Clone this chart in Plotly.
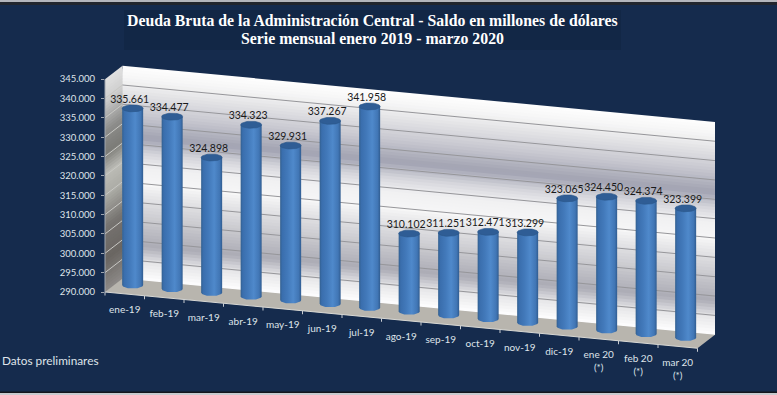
import plotly.graph_objects as go
import numpy as np

categories = ["ene-19","feb-19","mar-19","abr-19","may-19","jun-19","jul-19","ago-19","sep-19","oct-19","nov-19","dic-19","ene 20<br>(*)","feb 20<br>(*)","mar 20<br>(*)"]
values = [335661,334477,324898,334323,329931,337267,341958,310102,311251,312471,313299,323065,324450,324374,323399]
y_ticks = [290000,295000,300000,305000,310000,315000,320000,325000,330000,335000,340000,345000]
title_1 = "Deuda Bruta de la Administración Central - Saldo en millones de dólares"
title_2 = "Serie mensual enero 2019 - marzo 2020"
note = "Datos preliminares"

W, H = 777, 395
PX_CAT = 39.5      # px per category
PX_K = 3.87/1000   # px per unit of value
X0, Y0 = 105, 292  # px of the front-left corner of the floor
VMIN, VMAX = 290000, 345000
SLOPE = 3.75 / PX_K          # value units the floor falls per category
DEPTH_U = 17.5 / PX_CAT      # depth of the box in categories
DEPTH_V = 13.5 / PX_K        # depth of the box in value units
N = len(values)

def proj(u, v, d=0.0):
    return u + d*DEPTH_U, v - SLOPE*u + d*DEPTH_V

fmt = lambda v: f"{v:,}".replace(",", ".")

def lerp_color(stops, f):
    fs = [s[0] for s in stops]
    cs = np.array([[int(s[1][i:i+2],16) for i in (1,3,5)] for s in stops], float)
    rgb = [np.interp(f, fs, cs[:,k]) for k in range(3)]
    return "rgb(%d,%d,%d)" % tuple(rgb)

back_stops = [(0,"#ffffff"),(.06,"#f6f6f6"),(.12,"#e6e6e8"),(.22,"#cacad2"),(.33,"#a2a3b2"),(.40,"#d3d3da"),(.47,"#f1f1f2"),
              (.55,"#f7f7f7"),(.63,"#e0e0e3"),(.72,"#cacacf"),(.84,"#acacb6"),(.92,"#e8e8ea"),(1,"#ffffff")]
side_stops = [(0,"#e2e2e2"),(.1,"#cfcfcf"),(.25,"#8c8c8a"),(.35,"#7c7c78"),(.45,"#bcbcb6"),(.55,"#acaca6"),
              (.7,"#767370"),(.85,"#6a6662"),(1,"#8d8a88")]

fig = go.Figure()
STRIPS = 70

def poly(xs, ys, color, line=None, **kw):
    fig.add_trace(go.Scatter(x=xs, y=ys, mode="lines", fill="toself", fillcolor=color,
                             line=dict(color=line or color, width=0.6 if line else 0),
                             hoverinfo="skip", showlegend=False, **kw))

# walls made of overlapping sheared strips, painted from the top down
for k in range(STRIPS):
    f0 = k/STRIPS
    vt = VMAX-(VMAX-VMIN)*f0
    c = lerp_color(back_stops, f0+0.5/STRIPS)
    pts = [proj(0,vt,1), proj(N,vt,1), proj(N,VMIN,1), proj(0,VMIN,1)]
    poly([p[0] for p in pts]+[pts[0][0]], [p[1] for p in pts]+[pts[0][1]], c)
    c = lerp_color(side_stops, f0+0.5/STRIPS)
    pts = [proj(0,vt,0), proj(0,vt,1), proj(0,VMIN,1), proj(0,VMIN,0)]
    poly([p[0] for p in pts]+[pts[0][0]], [p[1] for p in pts]+[pts[0][1]], c)

# floor
pts = [proj(0,VMIN,0), proj(N,VMIN,0), proj(N,VMIN,1), proj(0,VMIN,1)]
poly([p[0] for p in pts]+[pts[0][0]], [p[1] for p in pts]+[pts[0][1]], "#b8b5ae")

# gridlines
for v in y_ticks[1:-1]:
    a, b, c = proj(0,v,0), proj(0,v,1), proj(N,v,1)
    fig.add_trace(go.Scatter(x=[a[0],b[0]], y=[a[1],b[1]], mode="lines", line=dict(color="#c8c8c4", width=1),
                             hoverinfo="skip", showlegend=False))
    fig.add_trace(go.Scatter(x=[b[0],c[0]], y=[b[1],c[1]], mode="lines", line=dict(color="#96969a", width=1),
                             hoverinfo="skip", showlegend=False))

# axis line & ticks along the floor front
a, b = proj(0,VMIN), proj(N,VMIN)
fig.add_trace(go.Scatter(x=[a[0],b[0]], y=[a[1],b[1]], mode="lines", line=dict(color="#d8d8d4", width=1),
                         hoverinfo="skip", showlegend=False))
TICK_V = 3.5/PX_K
tx, ty = [], []
for i in range(N+1):
    p = proj(i, VMIN)
    tx += [p[0], p[0], None]; ty += [p[1], p[1]-TICK_V, None]
fig.add_trace(go.Scatter(x=tx, y=ty, mode="lines", line=dict(color="#c8ccd2", width=1), hoverinfo="skip", showlegend=False))
# value axis line
fig.add_trace(go.Scatter(x=[0,0], y=[VMIN,VMAX], mode="lines", line=dict(color="#9fa6b0", width=1), hoverinfo="skip", showlegend=False))

# cylinders
BAR_U = 0.70
BAR_LIFT = 9.6/PX_K
A = 10.5/PX_CAT
B = 3.5/PX_K
t_low = np.linspace(np.pi, 2*np.pi, 24)
t_all = np.linspace(0, 2*np.pi, 48)
grad = [[0,"#33608f"],[.1,"#3a6ead"],[.35,"#4279ba"],[.62,"#4f89cb"],[.88,"#4176b5"],[1,"#305c90"]]
for i, v in enumerate(values):
    cu, base = proj(i+BAR_U, VMIN)
    _, top = proj(i+BAR_U, v)
    base += BAR_LIFT; top += BAR_LIFT
    xs = list(cu + A*np.cos(t_low)) + [cu+A, cu-A, cu-A]
    ys = list(base + B*np.sin(t_low)) + [top, top, base]
    fig.add_trace(go.Scatter(x=xs, y=ys, mode="lines", fill="toself", line=dict(width=0, color="#2c5b96"),
                             fillgradient=dict(type="horizontal", colorscale=grad),
                             hoverinfo="skip", showlegend=False))
    poly(list(cu + A*np.cos(t_all)), list(top + B*np.sin(t_all)), "#2f5d95", line="#2a5588")

# data labels
lab = [proj(i+BAR_U-3/PX_CAT, v) for i, v in enumerate(values)]
fig.add_trace(go.Scatter(x=[p[0] for p in lab], y=[p[1]+BAR_LIFT+2.5/PX_K for p in lab], mode="text",
                         text=[fmt(v) for v in values], textposition="top center",
                         textfont=dict(family="Lato", size=10.5, color="#1a1a1a"),
                         hoverinfo="skip", showlegend=False))
# category labels
lab = [proj(i+0.5, VMIN) for i in range(N)]
fig.add_trace(go.Scatter(x=[p[0] for p in lab], y=[p[1]-12/PX_K for p in lab], mode="text",
                         text=categories, textposition="bottom center",
                         textfont=dict(family="Lato", size=10, color="#dfe4ea"),
                         hoverinfo="skip", showlegend=False))

fig.update_layout(
    width=W, height=H, margin=dict(l=0,r=0,t=0,b=0), autosize=False,
    paper_bgcolor="#152b4d", plot_bgcolor="#152b4d", showlegend=False,
    xaxis=dict(visible=False, range=[-X0/PX_CAT, (W-X0)/PX_CAT], domain=[0,1]),
    yaxis=dict(range=[VMIN-(H-Y0)/PX_K, VMIN+Y0/PX_K], domain=[0,1], anchor="free", position=(X0-1)/W,
               tickmode="array", tickvals=y_ticks, ticktext=[fmt(v) for v in y_ticks],
               tickfont=dict(family="Lato", size=9.5, color="#dfe4ea"),
               ticks="outside", ticklen=3, tickcolor="#9fa6b0", showgrid=False, zeroline=False,
               showline=False, ticklabelstandoff=4),
    shapes=[
        dict(type="rect", xref="paper", yref="paper", x0=124/W, x1=621/W, y0=1-50/H, y1=1-10/H,
             fillcolor="#122746", line_width=0, layer="below"),
        dict(type="rect", xref="paper", yref="paper", x0=0, x1=1, y0=1-2/H, y1=1, fillcolor="#b4b6bc", line_width=0, layer="below"),
        dict(type="rect", xref="paper", yref="paper", x0=0, x1=1, y0=1-5/H, y1=1-2/H, fillcolor="#22262e", line_width=0, layer="below"),
        dict(type="rect", xref="paper", yref="paper", x0=0, x1=1, y0=2/H, y1=3.5/H, fillcolor="#14161c", line_width=0, layer="below"),
        dict(type="rect", xref="paper", yref="paper", x0=0, x1=1, y0=0, y1=2/H, fillcolor="#c8cace", line_width=0, layer="below"),
    ],
    annotations=[
        dict(xref="paper", yref="paper", x=372/W, y=1-20/H, text=f"<b>{title_1}</b>", showarrow=False, xanchor="center", yanchor="middle",
             font=dict(family="Liberation Serif", size=15.8, color="#ffffff")),
        dict(xref="paper", yref="paper", x=372/W, y=1-39/H, text=f"<b>{title_2}</b>", showarrow=False, xanchor="center", yanchor="middle",
             font=dict(family="Liberation Serif", size=15.8, color="#ffffff")),
        dict(xref="paper", yref="paper", x=0, y=1-360/H, text=note, showarrow=False, xanchor="left", yanchor="middle",
             font=dict(family="Lato", size=11.8, color="#dfe4ea")),
    ],
)
fig.write_html("out.html", config={"displayModeBar": False},
               post_script="document.documentElement.style.overflow='hidden';document.body.style.margin='0';document.body.style.background='#152b4d';")
